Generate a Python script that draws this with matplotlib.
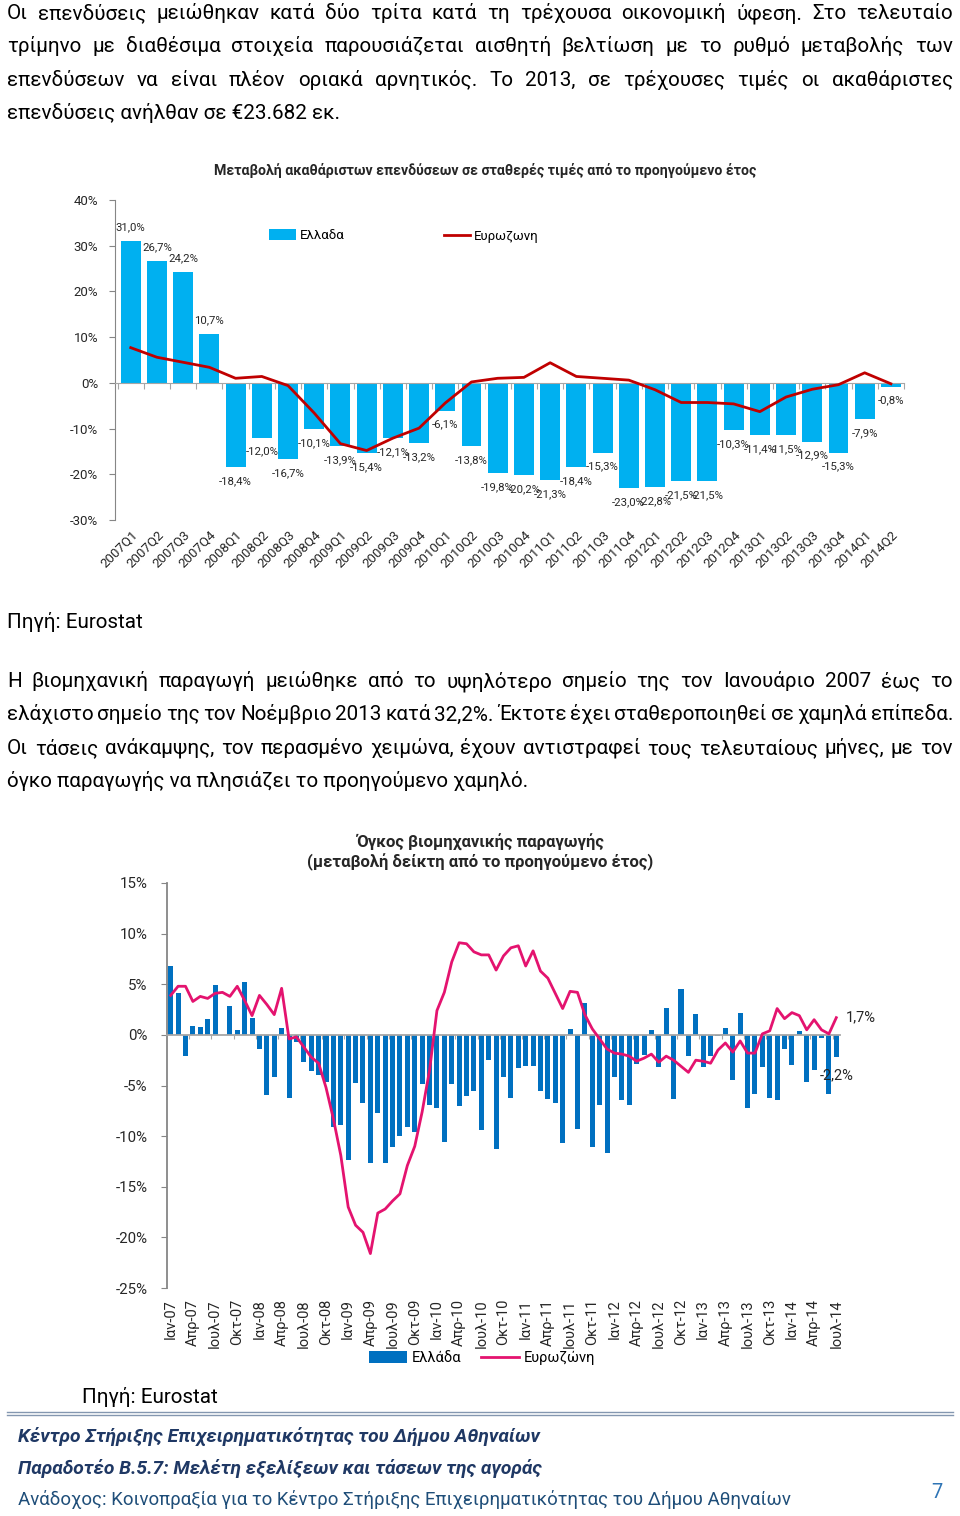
import matplotlib
matplotlib.use('Agg')
import matplotlib.pyplot as plt
from matplotlib.lines import Line2D
from matplotlib.patches import Patch
from matplotlib.ticker import FuncFormatter

plt.rcParams['font.family'] = ['Roboto', 'DejaVu Sans']

W, H = 960, 1516

# Επενδύσεις, τριμηνιαία μεταβολή (%)
quarters = [f'{y}Q{q}' for y in range(2007, 2015) for q in range(1, 5)][:30]
inv_greece = [31.0, 26.7, 24.2, 10.7, -18.4, -12.0, -16.7, -10.1, -13.9, -15.4,
              -12.1, -13.2, -6.1, -13.8, -19.8, -20.2, -21.3, -18.4, -15.3, -23.0,
              -22.8, -21.5, -21.5, -10.3, -11.4, -11.5, -12.9, -15.3, -7.9, -0.8]
inv_ez = [7.7, 5.6, 4.5, 3.4, 1.0, 1.4, -0.6, -6.6, -13.3, -14.8,
          -12.1, -9.9, -4.4, 0.2, 1.0, 1.2, 4.4, 1.4, 1.0, 0.6,
          -1.5, -4.3, -4.3, -4.6, -6.3, -3.1, -1.4, -0.4, 2.2, -0.2]

# Βιομηχανική παραγωγή, μηνιαία Ιαν-07 .. Ιουλ-14 (%)
ip_greece = [6.8, 4.1, -2.1, 0.9, 0.8, 1.6, 4.9, 0.0, 2.9, 0.5, 5.2, 1.7,
             -1.4, -5.9, -4.2, 0.7, -6.2, -0.7, -2.7, -3.6, -4.0, -4.7, -9.1, -8.9,
             -12.4, -4.8, -6.7, -12.7, -7.7, -12.7, -11.1, -10.0, -9.1, -9.6, -4.9, -6.9,
             -7.2, -10.6, -4.9, -7.0, -6.0, -5.5, -9.4, -2.5, -11.3, -4.2, -6.2, -3.3,
             -3.1, -3.1, -5.5, -6.3, -6.7, -10.7, 0.6, -9.3, 3.1, -11.1, -6.9, -11.7,
             -4.2, -6.4, -6.9, -2.9, -2.0, 0.5, -3.2, 2.7, -6.3, 4.5, -2.1, 2.1,
             -3.2, -2.1, -0.1, 0.7, -4.5, 2.2, -7.2, -5.8, -3.2, -6.2, -6.4, -1.4,
             -3.0, 0.4, -4.7, -3.5, -0.3, -5.8, -2.2]
ip_ez = [3.9, 4.8, 4.8, 3.3, 3.8, 3.6, 4.1, 4.2, 3.8, 4.8, 3.4, 1.9,
         3.9, 3.0, 2.0, 4.6, -0.4, -0.2, -1.2, -2.2, -2.8, -5.2, -8.3, -11.9,
         -17.0, -18.8, -19.5, -21.6, -17.6, -17.2, -16.4, -15.7, -12.9, -11.0, -7.6, -3.5,
         2.4, 4.2, 7.2, 9.1, 9.0, 8.2, 7.9, 7.9, 6.4, 7.8, 8.6, 8.8,
         6.8, 8.3, 6.3, 5.6, 4.1, 2.6, 4.3, 4.2, 2.0, 0.6, -0.4, -1.4,
         -1.8, -1.9, -2.1, -2.6, -2.3, -1.9, -2.7, -2.1, -2.5, -3.1, -3.7, -2.5,
         -2.6, -2.8, -1.5, -0.8, -1.7, -0.6, -1.8, -1.8, 0.1, 0.4, 2.6, 1.6,
         2.2, 1.9, 0.5, 1.5, 0.5, 0.1, 1.7]
months = ['Ιαν', 'Απρ', 'Ιουλ', 'Οκτ']
ip_ticklabels = [f'{m}-{y:02d}' for y in range(7, 15) for m in months][:31]

para1 = ['Οι επενδύσεις μειώθηκαν κατά δύο τρίτα κατά τη τρέχουσα οικονομική ύφεση. Στο τελευταίο',
         'τρίμηνο με διαθέσιμα στοιχεία παρουσιάζεται αισθητή βελτίωση με το ρυθμό μεταβολής των',
         'επενδύσεων να είναι πλέον οριακά αρνητικός. Το 2013, σε τρέχουσες τιμές οι ακαθάριστες',
         'επενδύσεις ανήλθαν σε €23.682 εκ.']
para2 = ['Η βιομηχανική παραγωγή μειώθηκε από το υψηλότερο σημείο της τον Ιανουάριο 2007 έως το',
         'ελάχιστο σημείο της τον Νοέμβριο 2013 κατά 32,2%. Έκτοτε έχει σταθεροποιηθεί σε χαμηλά επίπεδα.',
         'Οι τάσεις ανάκαμψης, τον περασμένο χειμώνα, έχουν αντιστραφεί τους τελευταίους μήνες, με τον',
         'όγκο παραγωγής να πλησιάζει το προηγούμενο χαμηλό.']

fig = plt.figure(figsize=(W / 100, H / 100), dpi=100)
renderer = fig.canvas.get_renderer()


def fx(px):
    return px / W


def fy(py):
    return 1 - py / H


def text_line(s, x0, y, size, x1=None, **kw):
    if x1 is None:
        fig.text(fx(x0), fy(y), s, fontsize=size, va='baseline', **kw)
        return
    words = s.split()
    while True:
        ts = [fig.text(0, 0, w, fontsize=size, va='baseline', **kw) for w in words]
        widths = [t.get_window_extent(renderer).width for t in ts]
        gap = (x1 - x0 - sum(widths)) / (len(words) - 1)
        if gap >= 2.8 or size < 8:
            break
        for t in ts:
            t.remove()
        size -= 0.2
    x = x0
    for t, w in zip(ts, widths):
        t.set_position((fx(x), fy(y)))
        x += w + gap


PSIZE = 14.9
for i, s in enumerate(para1):
    text_line(s, 7, 19 + 33.4 * i, PSIZE, None if i == 3 else 953)
text_line('Πηγή: Eurostat', 7, 628, PSIZE)
for i, s in enumerate(para2):
    text_line(s, 7, 687 + 33.4 * i, PSIZE, None if i == 3 else 953)
text_line('Πηγή: Eurostat', 82, 1403, PSIZE)

pct = FuncFormatter(lambda v, p: f'{v:.0f}%')
grey = '#868686'

# ---- διάγραμμα 1: επενδύσεις
ax1 = fig.add_axes([fx(115), fy(520), (904 - 115) / W, 320 / H])
x1 = list(range(len(quarters)))
ax1.bar(x1, inv_greece, width=0.76, color='#00B0F0', zorder=2)
ax1.plot(x1, inv_ez, color='#C00000', lw=2, zorder=3)
ax1.set_xlim(-0.6, 29.5)
ax1.set_ylim(-30, 40)
ax1.set_yticks(range(-30, 41, 10))
ax1.yaxis.set_major_formatter(pct)
for s in ['top', 'right']:
    ax1.spines[s].set_visible(False)
ax1.spines['left'].set_color(grey)
ax1.spines['bottom'].set_position(('data', 0))
ax1.spines['bottom'].set_color('#A6A6A6')
ax1.set_xticks([i + 0.5 for i in range(-1, 30)])
ax1.set_xticklabels([])
ax1.tick_params(axis='x', length=4, color='#A6A6A6')
ax1.tick_params(axis='y', length=4, color=grey, labelsize=9.5, pad=8, labelcolor='#262626')
sec1 = ax1.secondary_xaxis('bottom')
sec1.set_xticks(x1, labels=quarters, rotation=45, ha='right', rotation_mode='anchor',
                fontsize=9.5, color='#262626')
sec1.tick_params(length=0, pad=6)
sec1.spines['bottom'].set_visible(False)
for i, v in enumerate(inv_greece):
    ax1.annotate(f'{v:.1f}%'.replace('.', ','), (i, v), xytext=(0, 10 if v > 0 else -10),
                 textcoords='offset points', ha='center', va='center', fontsize=8.2,
                 color='#262626', zorder=4)
fig.text(fx(485), fy(170), 'Μεταβολή ακαθάριστων επενδύσεων σε σταθερές τιμές από το προηγούμενο έτος',
         ha='center', va='center', fontsize=10.2, fontweight='bold', color='#262626')
fig.legend(handles=[Patch(facecolor='#00B0F0', label='Ελλαδα'),
                    Line2D([], [], color='#C00000', lw=2, label='Ευρωζωνη')],
           loc='center', bbox_to_anchor=(fx(404), fy(236)), ncol=2, frameon=False,
           fontsize=9.5, handlelength=2.0, handleheight=0.9, handletextpad=0.3,
           columnspacing=7.5)

# ---- διάγραμμα 2: βιομηχανική παραγωγή
ax2 = fig.add_axes([fx(167), fy(1288), 673 / W, 405 / H])
x2 = list(range(len(ip_greece)))
ax2.bar(x2, ip_greece, width=0.68, color='#0070C0', zorder=2)
ax2.plot(x2, ip_ez, color='#E4136F', lw=2, zorder=3)
ax2.set_xlim(-0.5, len(x2) - 0.5)
ax2.set_ylim(-25, 15)
ax2.set_yticks(range(-25, 16, 5))
ax2.yaxis.set_major_formatter(pct)
for s in ['top', 'right']:
    ax2.spines[s].set_visible(False)
ax2.spines['left'].set_color(grey)
ax2.spines['left'].set_linewidth(1.3)
ax2.spines['bottom'].set_position(('data', 0))
ax2.spines['bottom'].set_color('#A6A6A6')
ax2.spines['bottom'].set_linewidth(1.3)
ax2.set_xticks([k * 3 - 0.5 for k in range(1, 31)])
ax2.set_xticklabels([])
ax2.tick_params(axis='x', length=3, color='#A6A6A6')
ax2.tick_params(axis='y', length=4, color=grey, labelsize=10.8, pad=10, labelcolor='#262626')
sec2 = ax2.secondary_xaxis('bottom')
sec2.set_xticks(list(range(0, len(x2), 3)), labels=ip_ticklabels, rotation=90,
                fontsize=10.5, color='#262626')
sec2.tick_params(length=0, pad=8)
sec2.spines['bottom'].set_visible(False)
ax2.annotate(f'{ip_ez[-1]:.1f}%'.replace('.', ','), (x2[-1], ip_ez[-1]), xytext=(7, 0),
             textcoords='offset points', ha='left', va='center', fontsize=10.5, color='#262626')
ax2.annotate(f'{ip_greece[-1]:.1f}%'.replace('.', ','), (x2[-1], ip_greece[-1]), xytext=(0, -13),
             textcoords='offset points', ha='center', va='center', fontsize=10.5, color='#262626')
fig.text(fx(480), fy(842), 'Όγκος βιομηχανικής παραγωγής', ha='center', va='center',
         fontsize=12, fontweight='bold', color='#262626')
fig.text(fx(480), fy(862), '(μεταβολή δείκτη από το προηγούμενο έτος)', ha='center', va='center',
         fontsize=12, fontweight='bold', color='#262626')
fig.legend(handles=[Patch(facecolor='#0070C0', label='Ελλάδα'),
                    Line2D([], [], color='#E4136F', lw=2, label='Ευρωζώνη')],
           loc='center', bbox_to_anchor=(fx(482), fy(1358)), ncol=2, frameon=False,
           fontsize=10.5, handlelength=2.6, handleheight=0.9, handletextpad=0.3,
           columnspacing=1.4)

# ---- υποσέλιδο
fig.add_artist(Line2D([fx(7), fx(953)], [fy(1412), fy(1412)], color='#8497B0', lw=1))
fig.add_artist(Line2D([fx(7), fx(953)], [fy(1415), fy(1415)], color='#8497B0', lw=1))
navy = '#1F3864'
text_line('Κέντρο Στήριξης Επιχειρηματικότητας του Δήμου Αθηναίων', 18, 1442, 13.9,
          color=navy, fontweight='bold', fontstyle='italic')
text_line('Παραδοτέο Β.5.7: Μελέτη εξελίξεων και τάσεων της αγοράς', 18, 1474, 13.9,
          color=navy, fontweight='bold', fontstyle='italic')
text_line('Ανάδοχος: Κοινοπραξία για το Κέντρο Στήριξης Επιχειρηματικότητας του Δήμου Αθηναίων',
          18, 1505, 13.4, color='#1F4E79')
text_line('7', 931, 1498, 14.5, color='#2E74B5')

fig.savefig('out.png', dpi=100)
